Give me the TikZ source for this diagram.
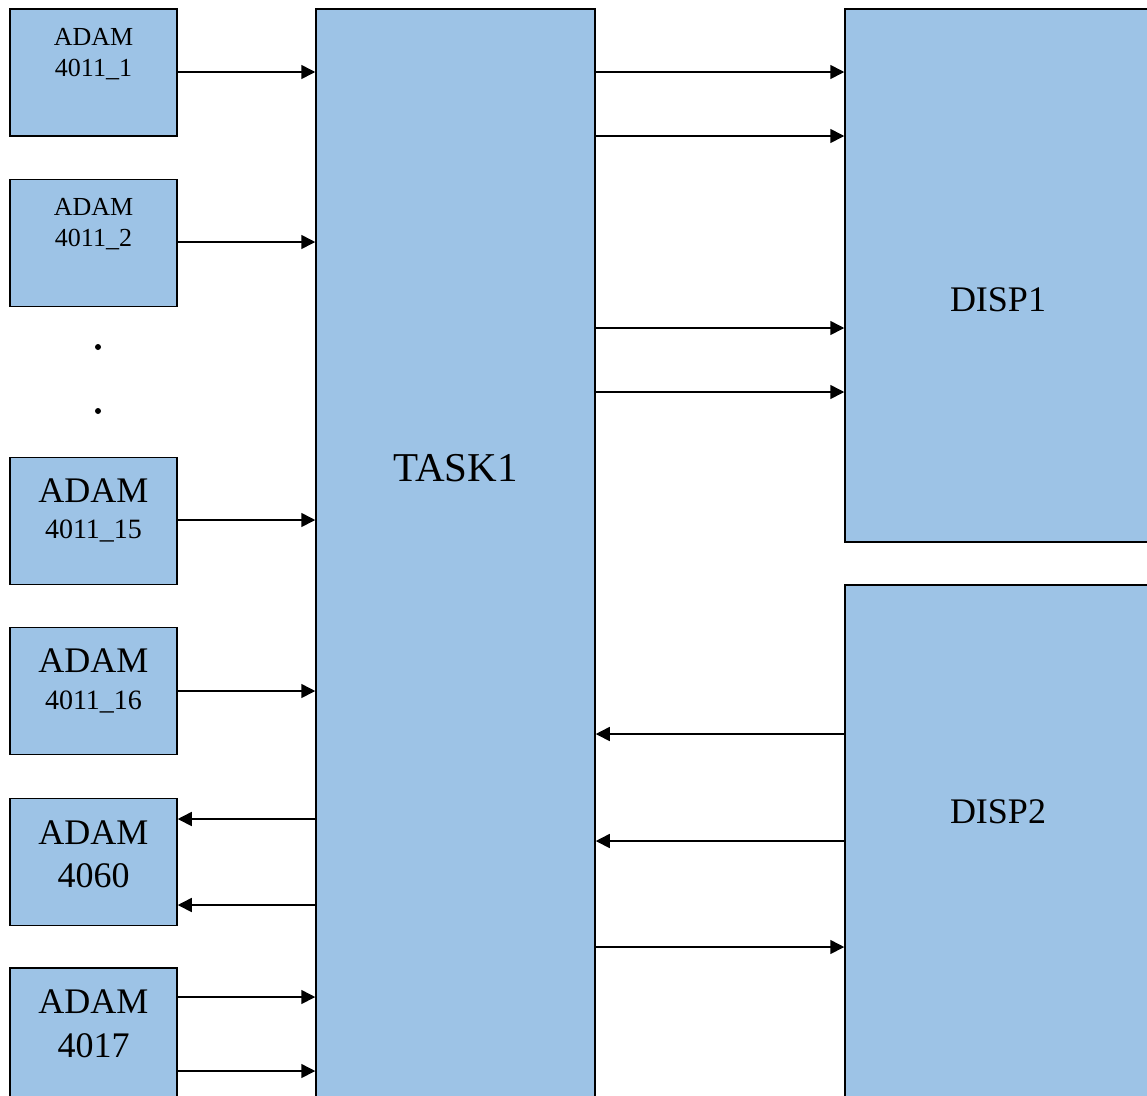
\documentclass[tikz,border=0pt]{standalone}
\usepackage{fontspec}
\setmainfont{Liberation Serif}
\usetikzlibrary{arrows.meta}
\definecolor{boxblue}{RGB}{157,195,230}
\tikzset{
  box/.style={draw=black, fill=boxblue, line width=1.5pt, inner sep=0pt, minimum width=167pt, minimum height=127pt},
  bigbox/.style={draw=black, fill=boxblue, line width=1.5pt, inner sep=0pt},
  lbl/.style={anchor=base, inner sep=0pt},
  small/.style={font=\fontsize{26}{30}\selectfont},
  mid/.style={font=\fontsize{28}{32}\selectfont},
  large/.style={font=\fontsize{36}{42}\selectfont},
  arr/.style={line width=1.6pt, -{Triangle[length=14pt,width=14pt]}}
}
\begin{document}
\begin{tikzpicture}[x=1pt,y=-1pt]
\useasboundingbox (0,0) rectangle (1147,1095);
\clip (0,0) rectangle (1147,1095);
% boxes
\node[box] (a1) at (93.5,72.5) {};
\node[box] (a2) at (93.5,243) {};
\node[box] (a15) at (93.5,521) {};
\node[box] (a16) at (93.5,691) {};
\node[box] (a60) at (93.5,862) {};
\node[box, minimum height=142pt] (a17) at (93.5,1039) {};
\node[bigbox, minimum width=279pt, minimum height=1101pt] (task) at (455.5,559.5) {};
\node[bigbox, minimum width=315pt, minimum height=533pt] (d1) at (1002.5,275.5) {};
\node[bigbox, minimum width=315pt, minimum height=525pt] (d2) at (1002.5,847.5) {};
% labels
\node[lbl,small] (t1a) at (93.5,45) {ADAM};
\node[lbl,small] (t1b) at (93.5,76) {4011\_1};
\node[lbl,small] (t2a) at (93.5,215) {ADAM};
\node[lbl,small] (t2b) at (93.5,246) {4011\_2};
\node[lbl,large] (t15a) at (93.5,502) {ADAM};
\node[lbl,mid] (t15b) at (93.5,538) {4011\_15};
\node[lbl,large] (t16a) at (93.5,672) {ADAM};
\node[lbl,mid] (t16b) at (93.5,709) {4011\_16};
\node[lbl,large] (t60a) at (93.5,844) {ADAM};
\node[lbl,large] (t60b) at (93.5,887) {4060};
\node[lbl,large] (t17a) at (93.5,1013) {ADAM};
\node[lbl,large] (t17b) at (93.5,1057) {4017};
\node[lbl,font=\fontsize{41}{48}\selectfont] (tt) at (455.5,481) {TASK1};
\node[lbl,large] (td1) at (998,311) {DISP1};
\node[lbl,large] (td2) at (998,823) {DISP2};
% dots
\fill (98,347) circle (3pt);
\fill (98,411) circle (3pt);
% connectors
\draw[arr] (a1.east |- 0,72) -- (task.west |- 0,72);
\draw[arr] (a2.east |- 0,242) -- (task.west |- 0,242);
\draw[arr] (a15.east |- 0,520) -- (task.west |- 0,520);
\draw[arr] (a16.east |- 0,691) -- (task.west |- 0,691);
\draw[arr] (task.west |- 0,819) -- (a60.east |- 0,819);
\draw[arr] (task.west |- 0,905) -- (a60.east |- 0,905);
\draw[arr] (a17.east |- 0,997) -- (task.west |- 0,997);
\draw[arr] (a17.east |- 0,1071) -- (task.west |- 0,1071);
\draw[arr] (task.east |- 0,72) -- (d1.west |- 0,72);
\draw[arr] (task.east |- 0,136) -- (d1.west |- 0,136);
\draw[arr] (task.east |- 0,328) -- (d1.west |- 0,328);
\draw[arr] (task.east |- 0,392) -- (d1.west |- 0,392);
\draw[arr] (d2.west |- 0,734) -- (task.east |- 0,734);
\draw[arr] (d2.west |- 0,841) -- (task.east |- 0,841);
\draw[arr] (task.east |- 0,947) -- (d2.west |- 0,947);
\end{tikzpicture}
\end{document}
